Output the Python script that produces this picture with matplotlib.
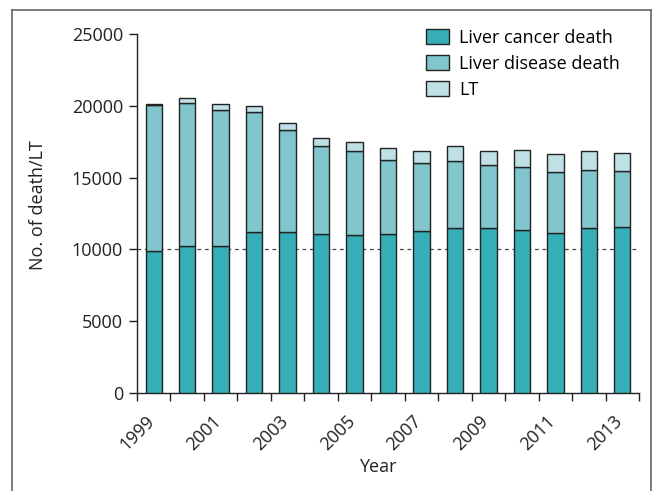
import matplotlib
matplotlib.use("Agg")
import matplotlib.pyplot as plt
import matplotlib.transforms as mtransforms
from matplotlib.lines import Line2D
import numpy as np

plt.rcParams['font.family'] = ['Open Sans', 'DejaVu Sans']

years = [str(y) for y in range(1999, 2014)]
cancer = [9860, 10260, 10260, 11235, 11210, 11095, 11025, 11095, 11310, 11490, 11470, 11375, 11120, 11490, 11585]
disease_top = [20090, 20190, 19740, 19560, 18300, 17200, 16830, 16200, 15990, 16130, 15870, 15755, 15385, 15500, 15475]
total = [20110, 20510, 20160, 20000, 18790, 17760, 17500, 17060, 16850, 17225, 16875, 16945, 16645, 16875, 16690]
disease = [d - c for d, c in zip(disease_top, cancer)]
lt = [t - d for t, d in zip(total, disease_top)]
tick_labels = ['1999', '2001', '2003', '2005', '2007', '2009', '2011', '2013']

c_cancer = '#36AEB8'
c_disease = '#80C6CC'
c_lt = '#BFE1E6'

fig = plt.figure(figsize=(6.57, 4.91), dpi=100)
ax = fig.add_axes([137/657, 1-393/491, (639-137)/657, (393-34)/491])

x = np.arange(len(years))
w = 0.49
ec = '#222222'
lw = 1.0
ax.bar(x, cancer, w, color=c_cancer, edgecolor=ec, linewidth=lw, label='Liver cancer death', zorder=3)
ax.bar(x, disease, w, bottom=cancer, color=c_disease, edgecolor=ec, linewidth=lw, label='Liver disease death', zorder=3)
ax.bar(x, lt, w, bottom=disease_top, color=c_lt, edgecolor=ec, linewidth=lw, label='LT', zorder=3)

ax.axhline(10000, color='#444444', linestyle=(0, (3, 3)), linewidth=0.9, zorder=2)

ax.set_xlim(-0.5, len(years) - 0.5)
ax.set_ylim(0, 25000)
ax.set_yticks([0, 5000, 10000, 15000, 20000, 25000])
ax.tick_params(axis='y', labelsize=13, length=6, width=1, direction='out', pad=4, colors='#222222')

ax.set_xticks(np.arange(-0.5, len(years), 1.0), minor=True)
ax.set_xticks(x[::2])
ax.set_xticklabels(tick_labels, rotation=45, ha='right', rotation_mode='default')
ax.tick_params(axis='x', which='major', length=0, labelsize=13, pad=14, colors='#222222')
ax.tick_params(axis='x', which='minor', length=6, width=1, direction='out', color='#222222')
offset = mtransforms.ScaledTranslation(4/100, 0, fig.dpi_scale_trans)
for lab in ax.get_xticklabels():
    lab.set_transform(lab.get_transform() + offset)

for s in ['top', 'right']:
    ax.spines[s].set_visible(False)
for s in ['left', 'bottom']:
    ax.spines[s].set_linewidth(1.0)
    ax.spines[s].set_color('#222222')

ax.set_ylabel('No. of death/LT', fontsize=13, color='#222222')
ax.yaxis.set_label_coords((47-137)/502, (393-205)/359)
ax.set_xlabel('Year', fontsize=13, color='#222222')
ax.xaxis.set_label_coords((378-137)/502, (393-458)/359)

ax.legend(loc='upper right', bbox_to_anchor=(0.995, 1.06), frameon=False, fontsize=13,
          handlelength=1.3, handleheight=0.9, handletextpad=0.55, labelspacing=0.45)

# figure frame
fc = '#666666'
fig.add_artist(Line2D([12/657, 12/657], [0, 1-10/491], color=fc, lw=1.2, transform=fig.transFigure))
fig.add_artist(Line2D([12/657, 651/657], [1-10/491, 1-10/491], color=fc, lw=1.2, transform=fig.transFigure))
fig.add_artist(Line2D([651/657, 651/657], [0, 1-10/491], color=fc, lw=1.2, transform=fig.transFigure))

fig.savefig('out.png', dpi=100)
